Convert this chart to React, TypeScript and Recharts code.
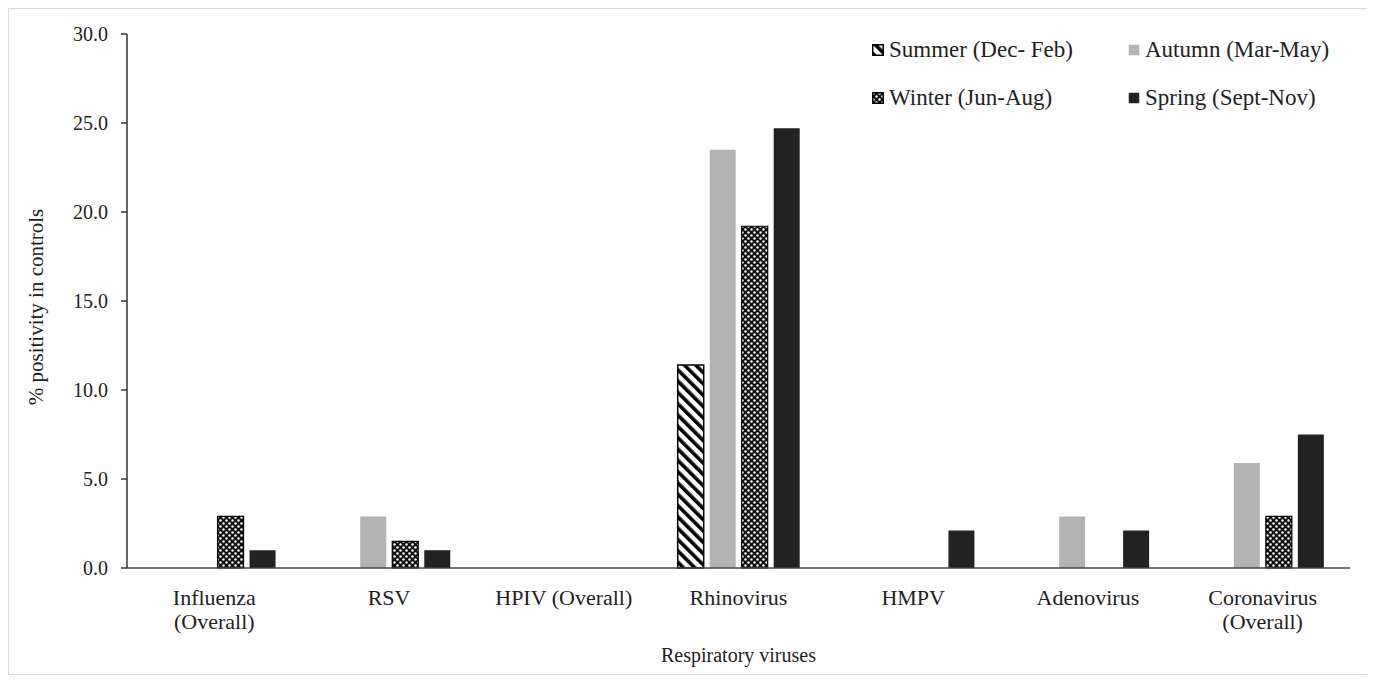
import React from 'react';
import { BarChart, Bar, XAxis, YAxis, Legend } from 'recharts';

const categories = [
  'Influenza (Overall)',
  'RSV',
  'HPIV (Overall)',
  'Rhinovirus',
  'HMPV',
  'Adenovirus',
  'Coronavirus (Overall)',
];

// how each category label is broken over lines under the axis
const tickLines: Record<string, string[]> = {
  'Influenza (Overall)': ['Influenza', '(Overall)'],
  RSV: ['RSV'],
  'HPIV (Overall)': ['HPIV (Overall)'],
  Rhinovirus: ['Rhinovirus'],
  HMPV: ['HMPV'],
  Adenovirus: ['Adenovirus'],
  'Coronavirus (Overall)': ['Coronavirus', '(Overall)'],
};

const summer = [0, 0, 0, 11.4, 0, 0, 0];
const autumn = [0, 2.9, 0, 23.5, 0, 2.9, 5.9];
const winter = [2.9, 1.5, 0, 19.2, 0, 0, 2.9];
const spring = [1.0, 1.0, 0, 24.7, 2.1, 2.1, 7.5];

const yTicks = [0, 5, 10, 15, 20, 25, 30];

const SERIES = [
  { key: 'summer', name: 'Summer (Dec- Feb)', fill: 'url(#stripes)', stroke: '#000', strokeWidth: 1.5 },
  { key: 'autumn', name: 'Autumn (Mar-May)', fill: '#b3b3b3', stroke: 'none', strokeWidth: 0 },
  { key: 'winter', name: 'Winter (Jun-Aug)', fill: 'url(#checks)', stroke: '#000', strokeWidth: 1.2 },
  { key: 'spring', name: 'Spring (Sept-Nov)', fill: '#222222', stroke: 'none', strokeWidth: 0 },
];

const data = categories.map((name, i) => ({
  name,
  summer: summer[i],
  autumn: autumn[i],
  winter: winter[i],
  spring: spring[i],
}));

const FONT = '"Liberation Serif", "Times New Roman", serif';

const CategoryTick = (props: any) => {
  const { x, y, payload } = props;
  const lines = tickLines[payload.value] || [payload.value];
  return (
    <text x={x} y={y} textAnchor="middle" fontFamily={FONT} fontSize={22} fill="#222">
      {lines.map((l, i) => (
        <tspan key={i} x={x} dy={i === 0 ? 37 : 24}>
          {l}
        </tspan>
      ))}
    </text>
  );
};

const YLabel = () => (
  <text
    x={34}
    y={298}
    transform="rotate(-90, 34, 298)"
    textAnchor="middle"
    fontFamily={FONT}
    fontSize={21}
    fill="#222"
  >
    % positivity in controls
  </text>
);

const LegendContent = () => (
  <div style={{ position: 'relative', width: 480, height: 80, fontFamily: FONT, fontSize: 23, color: '#222' }}>
    {SERIES.map((s, i) => (
      <div
        key={s.key}
        style={{
          position: 'absolute',
          left: i % 2 === 0 ? 0 : 256,
          top: i < 2 ? 0 : 48,
          height: 24,
          lineHeight: '24px',
          display: 'flex',
          alignItems: 'center',
          whiteSpace: 'nowrap',
        }}
      >
        <svg width={12} height={12} style={{ marginRight: 5 }}>
          <rect
            x={0.75}
            y={0.75}
            width={10.5}
            height={10.5}
            fill={s.fill}
            stroke={s.stroke === 'none' ? 'none' : '#000'}
            strokeWidth={1.5}
          />
        </svg>
        <span>{s.name}</span>
      </div>
    ))}
  </div>
);

export default function App() {
  return (
    <div style={{ position: 'relative', width: 1360, height: 665, border: '1px solid #d9d9d9', background: '#fff' }}>
      <svg width={0} height={0} style={{ position: 'absolute' }}>
        <defs>
          <pattern id="stripes" patternUnits="userSpaceOnUse" width={8} height={8} patternTransform="rotate(-45)">
            <rect width={8} height={8} fill="#fff" />
            <rect x={0} y={0} width={3.6} height={8} fill="#000" />
          </pattern>
          <pattern id="checks" patternUnits="userSpaceOnUse" width={6} height={6}>
            <rect width={6} height={6} fill="#111" />
            <circle cx={1.5} cy={1.5} r={1.2} fill="#fff" />
            <circle cx={4.5} cy={4.5} r={1.2} fill="#fff" />
          </pattern>
        </defs>
      </svg>
      <BarChart
        width={1360}
        height={665}
        data={data}
        margin={{ top: 25, right: 19, left: 0, bottom: 0 }}
        barCategoryGap="15.2%"
        barGap={6}
      >
        <XAxis
          dataKey="name"
          height={106}
          interval={0}
          tickLine={false}
          tickSize={0}
          tickMargin={0}
          axisLine={{ stroke: '#444', strokeWidth: 1.5 }}
          tick={<CategoryTick />}
          label={{
            value: 'Respiratory viruses',
            position: 'insideBottom',
            offset: 12,
            style: { fontFamily: FONT, fontSize: 20, fill: '#222' },
          }}
        />
        <YAxis
          width={118}
          domain={[0, 30]}
          ticks={yTicks}
          interval={0}
          tickFormatter={(v: number) => v.toFixed(1)}
          tickSize={6}
          tickMargin={13}
          axisLine={{ stroke: '#333', strokeWidth: 1.5 }}
          tickLine={{ stroke: '#333', strokeWidth: 1.5 }}
          tick={{ fontFamily: FONT, fontSize: 20, fill: '#222' }}
          label={<YLabel />}
        />
        <Legend
          layout="horizontal"
          verticalAlign="middle"
          align="center"
          content={<LegendContent />}
          wrapperStyle={{ top: 29, left: 863, width: 480 }}
        />
        {SERIES.map((s) => (
          <Bar
            key={s.key}
            dataKey={s.key}
            name={s.name}
            fill={s.fill}
            stroke={s.stroke}
            strokeWidth={s.strokeWidth}
            isAnimationActive={false}
          />
        ))}
      </BarChart>
    </div>
  );
}
